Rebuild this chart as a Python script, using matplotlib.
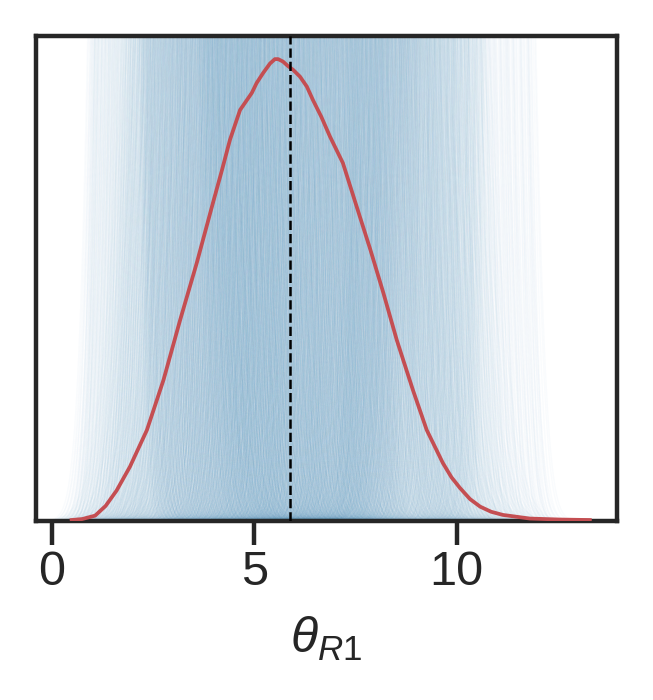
import numpy as np
import matplotlib
matplotlib.use("Agg")
import matplotlib.pyplot as plt

# ---------------- data ----------------
# observed density (red curve), read off the picture
obs_x = [0.49, 0.75, 1.07, 1.33, 1.60, 1.93, 2.35, 2.76, 3.17, 3.58, 3.98, 4.20,
         4.40, 4.65, 4.94, 5.06, 5.22, 5.39, 5.51, 5.59, 5.71, 5.83, 5.96, 6.13,
         6.30, 6.45, 6.66, 6.87, 7.19, 7.53, 7.87, 8.19, 8.52, 8.92, 9.26, 9.66,
         9.87, 10.08, 10.33, 10.58, 10.85, 11.14, 11.81, 12.55, 13.29]
obs_y = [0.0004, 0.0008, 0.0022, 0.0062, 0.0125, 0.0223, 0.0374, 0.0580, 0.0826,
         0.1060, 0.1307, 0.1440, 0.1566, 0.1689, 0.1759, 0.1800, 0.1841, 0.1880,
         0.1898, 0.1898, 0.1888, 0.1870, 0.1854, 0.1826, 0.1785, 0.1730, 0.1660,
         0.1580, 0.1471, 0.1292, 0.1114, 0.0937, 0.0744, 0.0538, 0.0374, 0.0238,
         0.0180, 0.0136, 0.0090, 0.0059, 0.0038, 0.0025, 0.0010, 0.0006, 0.0004]

# posterior predictive draws: location of each simulated density
pp_centers = [
    1.63, 1.70, 1.79, 1.88, 1.97,
    2.05, 2.13, 2.19, 2.27, 2.34, 2.40, 2.47,
    2.53, 2.58, 2.64, 2.69, 2.75, 2.80, 2.86, 2.91, 2.97,
    3.01, 3.07, 3.11, 3.13, 3.20, 3.24, 3.27, 3.33, 3.38, 3.40, 3.47, 3.51, 3.55,
    3.57, 3.64, 3.69, 3.72, 3.75, 3.82, 3.85, 3.88, 3.94, 3.99,
    4.03, 4.05, 4.11, 4.16, 4.18, 4.24, 4.29, 4.31, 4.37, 4.42, 4.44, 4.50, 4.54,
    4.59, 4.61, 4.67, 4.72, 4.74, 4.80, 4.85, 4.87, 4.93, 4.98,
    5.02, 5.06, 5.12, 5.15, 5.21, 5.25, 5.28, 5.34, 5.39, 5.41, 5.48, 5.52, 5.55,
    5.60, 5.66, 5.68, 5.73, 5.79, 5.81, 5.88, 5.91, 5.96,
    6.01, 6.07, 6.10, 6.16, 6.21, 6.23, 6.30, 6.34, 6.38, 6.43, 6.47, 6.53, 6.56,
    6.62, 6.67, 6.70, 6.76, 6.80, 6.85, 6.91, 6.95,
    7.02, 7.05, 7.12, 7.17, 7.20, 7.27, 7.31, 7.36, 7.42, 7.45, 7.52, 7.57, 7.61,
    7.66, 7.73, 7.77, 7.84, 7.89, 7.95,
    8.01, 8.05, 8.10, 8.13, 8.19, 8.23, 8.26, 8.31, 8.37, 8.41, 8.44, 8.50, 8.55,
    8.60, 8.63, 8.69, 8.72, 8.75, 8.83, 8.87, 8.90, 8.97,
    9.02, 9.05, 9.13, 9.18, 9.22, 9.29, 9.34, 9.38, 9.47, 9.55, 9.61, 9.66, 9.74,
    9.86, 9.97,
    10.08, 10.21, 10.35, 10.52, 10.66, 10.84, 11.03, 11.21,
]
# spreads of the simulated densities: narrow ones everywhere, wider ones mid-range
pp_spreads = [0.26, 0.29, 0.31, 0.34, 0.37, 0.40, 0.42, 0.33, 0.28]
pp_spreads_wide = [0.50, 0.62, 0.75]
wide_range = (2.8, 9.8)

ref_value = 5.89
xticks = [0, 5, 10]
xlabel = r"$\theta_{R1}$"

# ---------------- style ----------------
plt.rcParams["font.family"] = ["Liberation Sans", "DejaVu Sans"]
plt.rcParams["mathtext.fontset"] = "custom"
plt.rcParams["mathtext.rm"] = "Liberation Sans"
plt.rcParams["mathtext.it"] = "Liberation Sans:italic"
dark = "#262626"

fig = plt.figure(figsize=(6.53, 7.0), dpi=100)
ax = fig.add_axes([36 / 653, 1 - 521 / 700, (617 - 36) / 653, (521 - 36) / 700])

grid = np.linspace(-0.4, 14.0, 1200)


def draw(c, s):
    dens = np.exp(-0.5 * ((grid - c) / s) ** 2) / (s * np.sqrt(2 * np.pi))
    ax.plot(grid, dens, color="#1f77b4", alpha=0.025, lw=1.0, zorder=1)


for c in pp_centers:
    for s in pp_spreads:
        draw(c, s)
    if wide_range[0] <= c <= wide_range[1]:
        for s in pp_spreads_wide:
            draw(c, s)

ax.plot(obs_x, obs_y, color="#C44E52", lw=2.7, zorder=3)
ax.axvline(ref_value, color="k", ls="--", lw=1.8, zorder=4)

ax.set_xlim(-0.39, 13.96)
ax.set_ylim(0, 0.1993)
ax.set_xticks(xticks)
ax.set_yticks([])
ax.tick_params(axis="x", direction="out", length=17, width=3.2, pad=4,
               labelsize=35, color=dark, labelcolor=dark)
for sp in ax.spines.values():
    sp.set_linewidth(3.2)
    sp.set_color(dark)
ax.set_xlabel(xlabel, fontsize=36, color=dark, labelpad=14)

fig.savefig("out.png", dpi=100)
